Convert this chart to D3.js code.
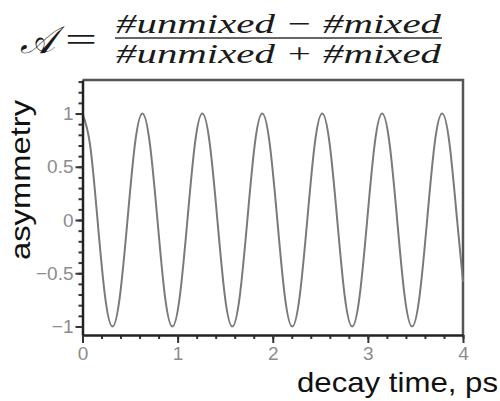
<!DOCTYPE html>
<html>
<head>
<meta charset="utf-8">
<script src="https://cdn.jsdelivr.net/npm/d3@7"></script>
<style>
  body { margin: 0; background: #fff; }
  svg { display: block; }
</style>
</head>
<body>
<svg id="chart" width="500" height="401"></svg>
<script>
// one point every eighth of an oscillation
const decayTime = [0, 0.079, 0.158, 0.236, 0.315, 0.394, 0.473, 0.551, 0.63, 0.709,
  0.788, 0.866, 0.945, 1.024, 1.103, 1.181, 1.26, 1.339, 1.418, 1.496,
  1.575, 1.654, 1.733, 1.811, 1.89, 1.969, 2.048, 2.126, 2.205, 2.284,
  2.363, 2.441, 2.52, 2.599, 2.678, 2.756, 2.835, 2.914, 2.993, 3.071,
  3.15, 3.229, 3.308, 3.386, 3.465, 3.544, 3.623, 3.701, 3.78, 3.859,
  3.938, 4.0];
const asymmetry = [1, 0.71, 0, -0.71, -1, -0.71, 0, 0.71, 1, 0.71,
  0, -0.71, -1, -0.71, 0, 0.71, 1, 0.71, 0, -0.71,
  -1, -0.71, 0, 0.71, 1, 0.71, 0, -0.71, -1, -0.71,
  0, 0.71, 1, 0.71, 0, -0.71, -1, -0.71, 0, 0.71,
  1, 0.71, 0, -0.71, -1, -0.71, 0, 0.71, 1, 0.71,
  0, -0.58];

const xTicks = [0, 1, 2, 3, 4];
const xMinorTicks = d3.range(0, 4.01, 0.2);
const yTicks = [-1, -0.5, 0, 0.5, 1];
const yMinorTicks = d3.range(-1, 1.31, 0.1);

const svg = d3.select("#chart");

const x = d3.scaleLinear().domain([0, 4]).range([82.5, 463]);
const y = d3.scaleLinear().domain([-1.08, 1.315]).range([335, 80]);

const labelFont = "'Liberation Sans', Arial, sans-serif";
const mathFont = "'Liberation Serif', 'DejaVu Serif', serif";

// frame (top and right)
svg.append("path")
  .attr("d", `M${x(0)},${y(1.315)}H${x(4)}V${y(-1.08)}`)
  .attr("fill", "none")
  .attr("stroke", "#555")
  .attr("stroke-width", 2.5);

// curve
const line = d3.line()
  .x((d, i) => x(decayTime[i]))
  .y(d => y(d))
  .curve(d3.curveNatural);

svg.append("path")
  .datum(asymmetry)
  .attr("d", line)
  .attr("fill", "none")
  .attr("stroke", "#7a7a7a")
  .attr("stroke-width", 2);

// x axis
const xAxis = svg.append("g").attr("transform", `translate(0,${y(-1.08)})`);
xAxis.append("g")
  .call(d3.axisBottom(x).tickValues(xMinorTicks).tickSize(4).tickFormat(""))
  .call(g => g.select(".domain").remove())
  .call(g => g.selectAll("line").attr("stroke", "#333").attr("stroke-width", 2));
xAxis.append("g")
  .call(d3.axisBottom(x).tickValues(xTicks).tickSize(8).tickSizeOuter(0).tickPadding(4)
    .tickFormat(d3.format("d")))
  .call(g => g.select(".domain").attr("stroke", "#222").attr("stroke-width", 2.5))
  .call(g => g.selectAll("line").attr("stroke", "#333").attr("stroke-width", 2))
  .call(g => g.selectAll("text")
    .attr("font-family", labelFont)
    .attr("font-size", 19)
    .attr("fill", "#8c8c8c"));

// y axis
const yAxis = svg.append("g").attr("transform", `translate(${x(0)},0)`);
yAxis.append("g")
  .call(d3.axisLeft(y).tickValues(yMinorTicks).tickSize(4).tickFormat(""))
  .call(g => g.select(".domain").remove())
  .call(g => g.selectAll("line").attr("stroke", "#333").attr("stroke-width", 2));
yAxis.append("g")
  .call(d3.axisLeft(y).tickValues(yTicks).tickSize(7).tickSizeOuter(0).tickPadding(2)
    .tickFormat(d3.format("")))
  .call(g => g.select(".domain").attr("stroke", "#222").attr("stroke-width", 2.5))
  .call(g => g.selectAll("line").attr("stroke", "#333").attr("stroke-width", 2))
  .call(g => g.selectAll("text")
    .attr("font-family", labelFont)
    .attr("font-size", 19)
    .attr("fill", "#8c8c8c"));

// axis titles
svg.append("text")
  .attr("transform", "translate(30,180) rotate(-90)")
  .attr("text-anchor", "middle")
  .attr("font-family", labelFont)
  .attr("font-size", 28)
  .attr("textLength", 160)
  .attr("lengthAdjust", "spacingAndGlyphs")
  .attr("fill", "#111")
  .text("asymmetry");

svg.append("text")
  .attr("x", 297)
  .attr("y", 392)
  .attr("font-family", labelFont)
  .attr("font-size", 28)
  .attr("textLength", 201)
  .attr("lengthAdjust", "spacingAndGlyphs")
  .attr("fill", "#111")
  .text("decay time, ps");

// formula
const formula = svg.append("g").attr("fill", "#1a1a1a");
formula.append("text")
  .attr("x", 20).attr("y", 53)
  .attr("font-family", mathFont)
  .attr("font-style", "italic")
  .attr("font-size", 38)
  .attr("textLength", 35)
  .attr("lengthAdjust", "spacingAndGlyphs")
  .text("𝒜");
formula.append("text")
  .attr("x", 65).attr("y", 51)
  .attr("font-family", mathFont)
  .attr("font-size", 34)
  .attr("textLength", 32)
  .attr("lengthAdjust", "spacingAndGlyphs")
  .text("=");
formula.append("text")
  .attr("x", 116).attr("y", 33)
  .attr("font-family", mathFont)
  .attr("font-style", "italic")
  .attr("font-size", 28)
  .attr("textLength", 325)
  .attr("lengthAdjust", "spacingAndGlyphs")
  .text("#unmixed − #mixed");
formula.append("line")
  .attr("x1", 115).attr("x2", 442)
  .attr("y1", 38).attr("y2", 38)
  .attr("stroke", "#333")
  .attr("stroke-width", 1.5);
formula.append("text")
  .attr("x", 116).attr("y", 63)
  .attr("font-family", mathFont)
  .attr("font-style", "italic")
  .attr("font-size", 28)
  .attr("textLength", 325)
  .attr("lengthAdjust", "spacingAndGlyphs")
  .text("#unmixed + #mixed");
</script>
</body>
</html>
